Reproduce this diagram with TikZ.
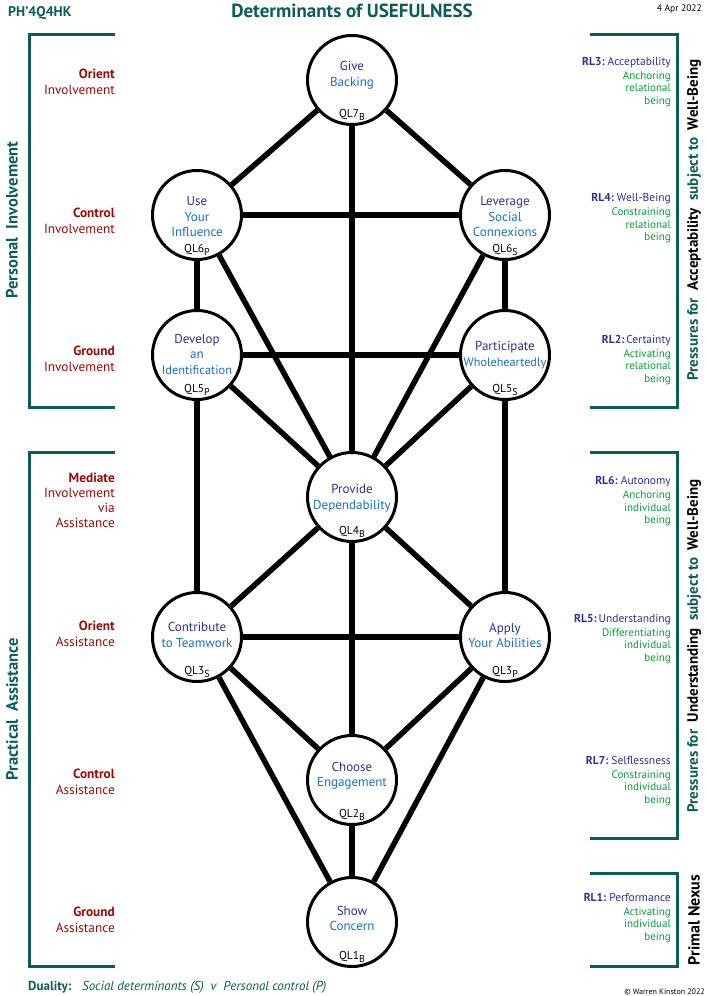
\documentclass[tikz,border=0pt]{standalone}
\usepackage{fontspec}
\setmainfont{PT Sans}
\usetikzlibrary{calc}
\definecolor{tealc}{HTML}{0E5C58}
\definecolor{darkredc}{HTML}{990B0B}
\definecolor{indigoc}{HTML}{2E3192}
\definecolor{qlblue}{HTML}{1B6FC0}
\definecolor{greenc}{HTML}{0A9A3C}
\newcommand{\qlnode}[8]{%
  \node[qlcircle] (#1) at (#2,#3) {};
  \node[qltext] (#1t) at ([yshift=#4pt]#1.center) {\textcolor{indigoc}{#5}\\#6};
  \node[qllab] (#1l) at ([yshift=-37pt]#1.center) {QL#7\raisebox{-3pt}{\fontsize{10}{10}\selectfont #8}};
}
\begin{document}
\begin{tikzpicture}[x=1pt,y=1pt,
  qlcircle/.style={circle, draw=black, line width=3pt, fill=white, minimum size=89pt, inner sep=0pt},
  qltext/.style={align=center, text=qlblue, font=\fontsize{13}{15.5}\selectfont, inner sep=0pt},
  qllab/.style={anchor=base, font=\fontsize{11.5}{12}\selectfont, inner sep=0pt},
  edge/.style={line width=5.5pt, draw=black},
  bracket/.style={draw=tealc, line width=3pt},
  leftlab/.style={align=right, anchor=east, text=darkredc, font=\fontsize{13.3}{16}\selectfont, inner sep=0pt},
  rightlab/.style={align=right, anchor=east, text=greenc, font=\fontsize{11}{12.5}\selectfont, inner sep=0pt},
  sidetitle/.style={rotate=90, font=\bfseries\fontsize{15}{15}\selectfont, inner sep=0pt}]
\fill[white] (0,0) rectangle (707,-996);
\useasboundingbox (0,0) rectangle (707,-996);

% nodes
\qlnode{q7}{352}{-80}{5}{Give}{Backing}{7}{B}
\qlnode{q6p}{197}{-215}{-2}{Use}{Your\\Influence}{6}{P}
\qlnode{q6s}{505}{-215}{-2}{Leverage}{Social\\Connexions}{6}{S}
\qlnode{q5p}{197}{-355}{1}{Develop}{an\\{\fontsize{12.4}{15.5}\selectfont Identification}}{5}{P}
\qlnode{q5s}{505}{-355}{0}{Participate}{{\fontsize{12.2}{15.5}\selectfont Wholeheartedly}}{5}{S}
\qlnode{q4}{352}{-497}{-1}{Provide}{Dependability}{4}{B}
\qlnode{q3s}{197}{-637}{2}{Contribute}{to Teamwork}{3}{S}
\qlnode{q3p}{505}{-637}{1.5}{Apply}{Your Abilities}{3}{P}
\qlnode{q2}{352}{-780}{4.5}{Choose}{Engagement}{2}{B}
\qlnode{q1}{352}{-922}{3.5}{Show}{Concern}{1}{B}

% edges
\draw[edge] (q7) -- (q6p);
\draw[edge] (q7) -- (q6s);
\draw[edge] (q7) -- (q4);
\draw[edge] (q6p) -- (q6s);
\draw[edge] (q6p) -- (q5p);
\draw[edge] (q6s) -- (q5s);
\draw[edge] (q6p) -- (q4);
\draw[edge] (q6s) -- (q4);
\draw[edge] (q5p) -- (q5s);
\draw[edge] (q5p) -- (q4);
\draw[edge] (q5s) -- (q4);
\draw[edge] (q5p) -- (q3s);
\draw[edge] (q5s) -- (q3p);
\draw[edge] (q4) -- (q3s);
\draw[edge] (q4) -- (q3p);
\draw[edge] (q4) -- (q2);
\draw[edge] (q3s) -- (q3p);
\draw[edge] (q3s) -- (q2);
\draw[edge] (q3p) -- (q2);
\draw[edge] (q3s) -- (q1);
\draw[edge] (q3p) -- (q1);
\draw[edge] (q2) -- (q1);

% brackets
\draw[bracket] (115,-34) -- (29,-34) -- (29,-407) -- (115,-407);
\draw[bracket] (115,-452) -- (29,-452) -- (29,-966) -- (115,-966);
\draw[bracket] (590,-34) -- (677,-34) -- (677,-407) -- (590,-407);
\draw[bracket] (590,-452) -- (677,-452) -- (677,-838) -- (590,-838);
\draw[bracket] (590,-873) -- (677,-873) -- (677,-966) -- (590,-966);

% header
\node[anchor=west, text=tealc, font=\bfseries\fontsize{14}{14}\selectfont, inner sep=0pt] (code) at (8,-13) {PH’4Q4HK};
\node[text=tealc, font=\bfseries\fontsize{19}{19}\selectfont, inner sep=0pt] (title) at (352,-11) {Determinants of USEFULNESS};
\node[anchor=east, font=\fontsize{9.5}{10}\selectfont, inner sep=0pt] (date) at (702,-9) {4 Apr 2022};

% left side titles
\node[sidetitle, text=tealc, font=\bfseries\fontsize{16.5}{16.5}\selectfont] (pinv) at (12,-220) {Personal\ \ Involvement};
\node[sidetitle, text=tealc, font=\bfseries\fontsize{16.5}{16.5}\selectfont] (pass) at (12,-709) {Practical\ \ Assistance};

% left labels
\node[leftlab] (lo1) at (115,-81.5) {\textbf{Orient}\\Involvement};
\node[leftlab] (lc1) at (115,-221) {\textbf{Control}\\Involvement};
\node[leftlab] (lg1) at (115,-359) {\textbf{Ground}\\Involvement};
\node[leftlab, font=\fontsize{13.3}{15}\selectfont] (lm) at (115,-500.5) {\textbf{Mediate}\\Involvement\\via\\Assistance};
\node[leftlab] (lo2) at (115,-634) {\textbf{Orient}\\Assistance};
\node[leftlab] (lc2) at (115,-781.5) {\textbf{Control}\\Assistance};
\node[leftlab] (lg2) at (115,-919.5) {\textbf{Ground}\\Assistance};

% right labels
\node[rightlab] (r3) at (671,-82) {\textcolor{indigoc}{\fontsize{11.5}{12}\selectfont\textbf{RL3:}\ Acceptability}\\[1.5pt]Anchoring\\relational\\being};
\node[rightlab] (r4) at (671,-218.5) {\textcolor{indigoc}{\fontsize{11.5}{12}\selectfont\textbf{RL4:}\ Well-Being}\\[1.5pt]Constraining\\relational\\being};
\node[rightlab] (r2) at (671,-360) {\textcolor{indigoc}{\fontsize{11.5}{12}\selectfont\textbf{RL2:}\,Certainty}\\[1.5pt]Activating\\relational\\being};
\node[rightlab] (r6) at (671,-501.5) {\textcolor{indigoc}{\fontsize{11.5}{12}\selectfont\textbf{RL6:}\ Autonomy}\\[1.5pt]Anchoring\\individual\\being};
\node[rightlab] (r5) at (671,-639) {\textcolor{indigoc}{\fontsize{11.5}{12}\selectfont\textbf{RL5:}\,Understanding}\\[1.5pt]Differentiating\\individual\\being};
\node[rightlab] (r7) at (671,-781) {\textcolor{indigoc}{\fontsize{11.5}{12}\selectfont\textbf{RL7:}\ Selflessness}\\[1.5pt]Constraining\\individual\\being};
\node[rightlab] (r1) at (671,-918) {\textcolor{indigoc}{\fontsize{11.5}{12}\selectfont\textbf{RL1:}\ Performance}\\[1.5pt]Activating\\individual\\being};

% right side titles
\node[sidetitle] (pacc) at (694,-220) {\textcolor{tealc}{Pressures for}\ \ Acceptability\ \ \textcolor{tealc}{subject to}\ \ Well-Being};
\node[sidetitle] (pund) at (694,-646) {\textcolor{tealc}{Pressures for}\ \ Understanding\ \ \textcolor{tealc}{subject to}\ \ Well-Being};
\node[sidetitle, font=\bfseries\fontsize{16}{16}\selectfont] (pnex) at (694,-920) {Primal Nexus};

% footer
\node[anchor=west, text=tealc, font=\bfseries\fontsize{13}{13}\selectfont, inner sep=0pt] (dual) at (28,-987) {Duality:};
\node[anchor=west, text=tealc, font=\itshape\fontsize{13}{13}\selectfont, inner sep=0pt] (dualt) at (82,-987) {Social determinants (S)\ \ v\ \ Personal control (P)};
\node[anchor=south east, font=\fontsize{8}{8}\selectfont, inner sep=0pt] (copy) at (705,-995) {© Warren Kinston 2022};
\end{tikzpicture}
\end{document}
